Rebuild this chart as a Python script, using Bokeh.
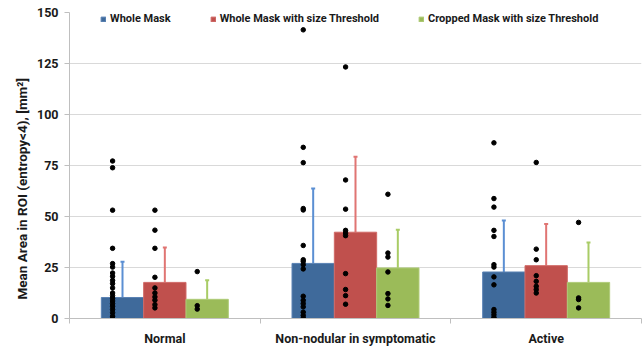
import numpy as np
from bokeh.plotting import figure
from bokeh.models import (ColumnDataSource, Range1d, FixedTicker, Whisker, TeeHead,
                          Legend, LegendItem, Title)
from bokeh.embed import file_html
from bokeh.resources import INLINE

categories = ["Normal", "Non-nodular in symptomatic", "Active"]
series = ["Whole Mask", "Whole Mask with size Threshold", "Cropped Mask with size Threshold"]

mean_whole = [10.3, 27.0, 22.8]
mean_whole_thr = [17.7, 42.3, 25.9]
mean_crop_thr = [9.4, 24.8, 17.7]

upper_whole = [27.8, 63.7, 48.0]
upper_whole_thr = [34.8, 79.3, 46.3]
upper_crop_thr = [18.7, 43.5, 37.3]

pts_whole_normal = [77.2, 73.9, 53.1, 34.4, 26.9, 25.2, 22.3, 20.7, 18.7, 17.1, 15.0,
                    12.5, 11.2, 9.9, 8.6, 7.3, 6.0, 4.4, 2.8, 1.1, 0.0]
pts_whole_nonnod = [141.5, 83.9, 76.4, 53.9, 53.2, 35.8, 28.8, 28.0, 26.4, 24.3, 10.9,
                    8.9, 7.3, 5.7, 3.1, 1.5, 0.2]
pts_whole_active = [86.1, 58.8, 54.6, 43.2, 40.2, 26.4, 25.2, 20.4, 16.5, 4.4, 3.1, 1.8,
                    0.5, 0.0]
pts_thr_normal = [53.1, 43.3, 34.4, 20.2, 15.0, 12.5, 10.6, 9.0, 6.8, 5.2]
pts_thr_nonnod = [123.3, 67.9, 53.6, 43.2, 41.9, 40.6, 22.0, 14.2, 11.2, 7.0]
pts_thr_active = [76.5, 34.0, 28.8, 21.0, 18.2, 15.8, 14.2, 12.5]
pts_crop_normal = [23.0, 6.3, 4.6]
pts_crop_nonnod = [60.9, 32.1, 30.1, 22.8, 12.2, 9.6, 6.4]
pts_crop_active = [47.1, 10.1, 9.3, 5.2]

y_ticks = [0, 25, 50, 75, 100, 125, 150]
y_title = "Mean Area in ROI (entropy<4), [mm\u00b2]"

means = [mean_whole, mean_whole_thr, mean_crop_thr]
uppers = [upper_whole, upper_whole_thr, upper_crop_thr]
points = [[pts_whole_normal, pts_whole_nonnod, pts_whole_active],
          [pts_thr_normal, pts_thr_nonnod, pts_thr_active],
          [pts_crop_normal, pts_crop_nonnod, pts_crop_active]]

bar_colors = ["#3F6A9B", "#C0504D", "#9BBB59"]
edge_colors = ["#5A82B4", "#D06A67", "#AFCB78"]
err_colors = ["#5B8FD3", "#E07573", "#A9CC66"]
offsets = [-0.222, 0.0, 0.222]
bar_w = 0.222
dot_shift = -0.052

FONT = "Roboto"
TXT = "#1a1a1a"
AX = "#BFBFBF"

p = figure(width=644, height=348, output_backend="svg", toolbar_location=None,
           x_range=Range1d(0, 3), y_range=Range1d(0, 150),
           min_border_left=69, min_border_right=3, min_border_top=12, min_border_bottom=29)
p.outline_line_color = None
p.background_fill_color = "white"
p.border_fill_color = "white"

x_idx = np.arange(len(categories)) + 0.5

renderers = []
for s in range(3):
    src = ColumnDataSource(dict(x=x_idx + offsets[s], top=means[s], upper=uppers[s]))
    r = p.vbar(x="x", top="top", bottom=0, width=bar_w, source=src,
               fill_color=bar_colors[s], line_color=edge_colors[s], line_width=1)
    renderers.append(r)
    w = Whisker(source=src, base="x", lower="top", upper="upper", dimension="height",
                line_color=err_colors[s], line_width=2,
                upper_head=TeeHead(size=4, line_color=err_colors[s], line_width=2),
                lower_head=None)
    p.add_layout(w)

for s in range(3):
    xs, ys = [], []
    for c in range(3):
        vals = points[s][c]
        xs += [x_idx[c] + offsets[s] + dot_shift] * len(vals)
        ys += vals
    p.scatter(xs, ys, size=4.5, color="black")

# grid
p.xgrid.grid_line_color = None
p.ygrid.grid_line_color = "#D9D9D9"
p.ygrid.grid_line_width = 1
p.ygrid.ticker = FixedTicker(ticks=y_ticks)

# y axis
p.yaxis.ticker = FixedTicker(ticks=y_ticks)
p.yaxis.axis_line_color = AX
p.yaxis.major_tick_line_color = AX
p.yaxis.major_tick_out = 5
p.yaxis.major_tick_in = 0
p.yaxis.minor_tick_line_color = None
p.yaxis.major_label_text_font = FONT
p.yaxis.major_label_text_font_style = "bold"
p.yaxis.major_label_text_font_size = "12.5px"
p.yaxis.major_label_text_color = TXT
p.yaxis.major_label_standoff = 6

# y title placed as in the reference (a bit below the frame centre)
p.add_layout(Title(text=y_title, align="left", offset=19, standoff=8,
                   text_font=FONT, text_font_style="bold", text_font_size="13.5px",
                   text_color=TXT), "left")

# x axis
p.xaxis.ticker = FixedTicker(ticks=list(x_idx), minor_ticks=[0, 1, 2, 3])
p.xaxis.major_label_overrides = {float(x): c for x, c in zip(x_idx, categories)}
p.xaxis.axis_line_color = AX
p.xaxis.major_tick_line_color = None
p.xaxis.major_tick_out = 0
p.xaxis.major_tick_in = 0
p.xaxis.minor_tick_line_color = AX
p.xaxis.minor_tick_out = 5
p.xaxis.minor_tick_in = 0
p.xaxis.major_label_text_font = FONT
p.xaxis.major_label_text_font_style = "bold"
p.xaxis.major_label_text_font_size = "12.5px"
p.xaxis.major_label_text_color = TXT
p.xaxis.major_label_standoff = 7

legend = Legend(items=[LegendItem(label=series[i], renderers=[renderers[i]]) for i in range(3)],
                orientation="horizontal", location=(31, 293),
                glyph_width=6, glyph_height=6, label_standoff=4, spacing=39,
                padding=0, margin=0, border_line_color=None,
                background_fill_alpha=0,
                label_text_font=FONT, label_text_font_style="bold",
                label_text_font_size="11px", label_text_color=TXT,
                label_height=12)
p.add_layout(legend, "center")

open("out.html", "w").write(file_html(p, INLINE))
